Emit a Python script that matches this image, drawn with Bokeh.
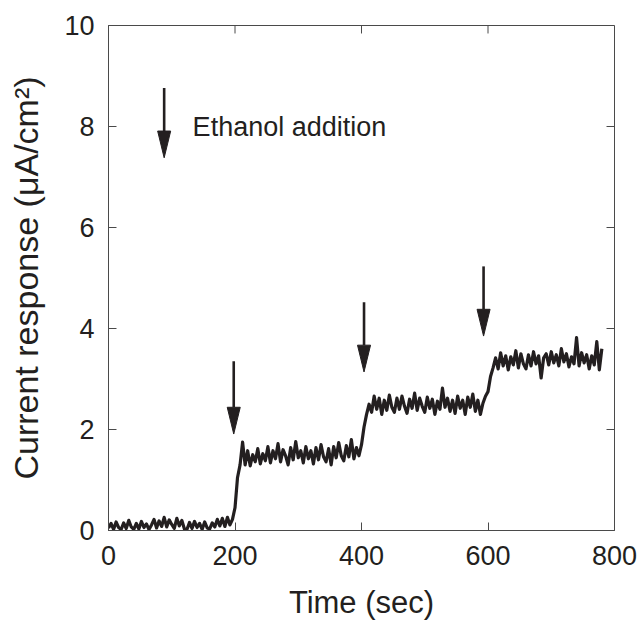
from bokeh.plotting import figure
from bokeh.models import Range1d, FixedTicker
from bokeh.core.properties import value
from bokeh.embed import file_html
from bokeh.resources import INLINE

# ---- data ----
time_sec = list(range(0, 781, 4))
current = [
    # 0 .. 196 s (baseline)
    0.05, 0.14, 0.02, 0.17, 0.06, 0.02, 0.15, 0.04, 0.20, 0.07,
    0.02, 0.14, 0.03, 0.18, 0.06, 0.13, 0.02, 0.11, 0.22, 0.05,
    0.19, 0.08, 0.26, 0.07, 0.21, 0.12, 0.04, 0.24, 0.09, 0.20,
    0.03, 0.02, 0.16, 0.04, 0.18, 0.06, 0.14, 0.02, 0.17, 0.05,
    0.03, 0.15, 0.07, 0.22, 0.09, 0.24, 0.08, 0.26, 0.11, 0.22,
    # 200 .. 400 s (first addition)
    0.45, 1.05, 1.30, 1.75, 1.30, 1.58, 1.28, 1.50, 1.36, 1.62,
    1.32, 1.52, 1.38, 1.66, 1.34, 1.58, 1.42, 1.72, 1.36, 1.60,
    1.48, 1.30, 1.64, 1.40, 1.76, 1.44, 1.58, 1.34, 1.66, 1.42,
    1.58, 1.32, 1.64, 1.40, 1.70, 1.46, 1.36, 1.62, 1.30, 1.66,
    1.44, 1.74, 1.48, 1.38, 1.68, 1.46, 1.80, 1.42, 1.64, 1.48,
    1.70,
    # 404 .. 596 s (second addition)
    2.05, 2.30, 2.50, 2.34, 2.66, 2.40, 2.62, 2.30, 2.58, 2.38,
    2.68, 2.44, 2.34, 2.62, 2.40, 2.66, 2.46, 2.32, 2.60, 2.42,
    2.72, 2.38, 2.62, 2.46, 2.34, 2.64, 2.42, 2.60, 2.30, 2.56,
    2.40, 2.82, 2.44, 2.62, 2.36, 2.58, 2.32, 2.66, 2.42, 2.58,
    2.30, 2.64, 2.44, 2.70, 2.36, 2.58, 2.30, 2.52, 2.66,
    # 600 .. 780 s (third addition)
    2.75, 3.05, 3.22, 3.42, 3.20, 3.52, 3.26, 3.46, 3.18, 3.44,
    3.28, 3.56, 3.22, 3.50, 3.30, 3.20, 3.48, 3.26, 3.54, 3.30,
    3.46, 3.02, 3.42, 3.50, 3.28, 3.54, 3.32, 3.48, 3.26, 3.60,
    3.34, 3.50, 3.24, 3.44, 3.30, 3.82, 3.26, 3.52, 3.32, 3.48,
    3.20, 3.46, 3.28, 3.74, 3.18, 3.60,
]
assert len(time_sec) == len(current)

# arrows: x position, top of shaft, tip (data units)
arrow_x = [88, 198, 404, 593]
arrow_top = [8.76, 3.35, 4.52, 5.23]
arrow_tip = [7.38, 1.91, 3.14, 3.85]

note_x = [133]
note_y = [8.0]
note_text = ["Ethanol addition"]

x_ticks = [0, 200, 400, 600, 800]
y_ticks = [0, 2, 4, 6, 8, 10]

# ---- styling ----
INK = "#231f20"
FRAME = "#4a4a4a"
FONT = "Liberation Sans"
HEAD_LEN = 0.53      # data units (y)
HEAD_HALF_W = 10.3   # data units (x)
TICK_X = 12.6        # 8 px in x data units
TICK_Y = 0.158       # 8 px in y data units
X_MAX = 800
Y_MAX = 10

p = figure(width=640, height=622, output_backend="svg", toolbar_location=None,
           x_range=Range1d(0, X_MAX), y_range=Range1d(0, Y_MAX),
           min_border_left=108, min_border_right=26,
           min_border_top=25, min_border_bottom=90)
p.grid.visible = False
p.outline_line_color = FRAME
p.outline_line_width = 1
p.background_fill_color = "white"
p.border_fill_color = "white"

xa = p.xaxis[0]
ya = p.yaxis[0]
for ax, ticks in ((xa, x_ticks), (ya, y_ticks)):
    ax.ticker = FixedTicker(ticks=ticks)
    ax.major_tick_in = 8
    ax.major_tick_out = 0
    ax.minor_tick_in = 0
    ax.minor_tick_out = 0
    ax.axis_line_color = FRAME
    ax.major_tick_line_color = FRAME
    ax.major_label_text_font = FONT
    ax.major_label_text_color = INK
    ax.major_label_text_font_size = "27px"
    ax.axis_label_text_font = FONT
    ax.axis_label_text_font_style = "normal"
    ax.axis_label_text_color = INK
xa.major_label_standoff = 15
ya.major_label_standoff = 14
xa.axis_label = "Time (sec)"
ya.axis_label = "Current response (μA/cm²)"
xa.axis_label_text_font_size = "31px"
ya.axis_label_text_font_size = "34px"
xa.axis_label_standoff = 17
ya.axis_label_standoff = 16

# inward ticks on the top and right frame edges
p.segment(x0=x_ticks, y0=[Y_MAX] * len(x_ticks), x1=x_ticks,
          y1=[Y_MAX - TICK_Y] * len(x_ticks), line_color=FRAME, line_width=1)
p.segment(x0=[X_MAX] * len(y_ticks), y0=y_ticks, x1=[X_MAX - TICK_X] * len(y_ticks),
          y1=y_ticks, line_color=FRAME, line_width=1)

# trace
p.line(time_sec, current, line_color=INK, line_width=3.2, line_join="round")

# arrows
shaft_end = [t + HEAD_LEN for t in arrow_tip]
p.segment(x0=arrow_x, y0=arrow_top, x1=arrow_x, y1=shaft_end,
          line_color=INK, line_width=2.6)
head_xs = [[x - HEAD_HALF_W, x + HEAD_HALF_W, x] for x in arrow_x]
head_ys = [[t + HEAD_LEN, t + HEAD_LEN, t] for t in arrow_tip]
p.patches(head_xs, head_ys, fill_color=INK, line_color=INK, line_width=1)

p.text(x=note_x, y=note_y, text=note_text, text_font=value(FONT),
       text_font_size="27px", text_color=INK, text_baseline="middle",
       text_align="left")

open("out.html", "w").write(file_html(p, INLINE))
